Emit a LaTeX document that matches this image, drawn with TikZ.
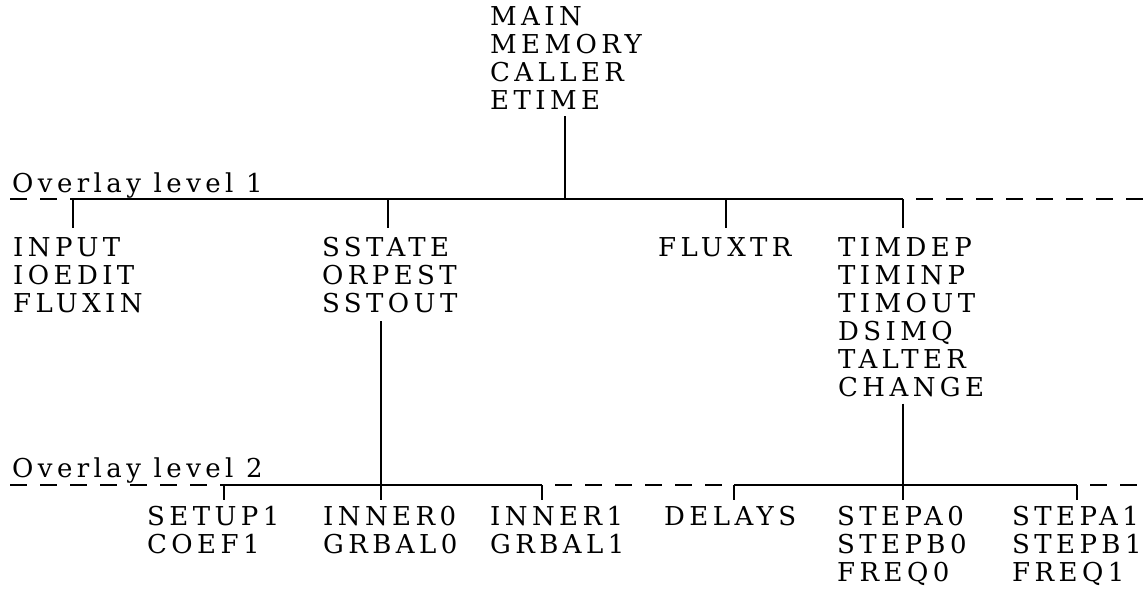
\documentclass[tikz,border=0pt]{standalone}
\usepackage{fontspec}
\setmainfont{DejaVu Serif}[LetterSpace=17]
\usetikzlibrary{calc}
\begin{document}
\begin{tikzpicture}[x=1pt,y=-1pt,
  lbl/.style={anchor=north west,inner sep=0pt,align=left,
              font=\fontsize{26}{28}\selectfont},
  tag/.style={anchor=base west,inner sep=0pt,font=\fontsize{26}{28}\selectfont},
  wire/.style={line width=1.5pt},
  dwire/.style={line width=1.6pt,dash pattern=on 17pt off 13pt},
  dwirec/.style={dwire,dash phase=17pt}]
\fill[white] (0,0) rectangle (1146,595);
\useasboundingbox (0,0) rectangle (1146,595);

% resident root segment
\node[lbl] (root) at (490,6) {MAIN\\MEMORY\\CALLER\\ETIME};

% overlay level 1
\node[tag] (ovl1) at (12,192) {Overlay level 1};
\node[lbl] (grpin) at (13,237)  {INPUT\\IOEDIT\\FLUXIN};
\node[lbl] (grpss) at (322,237) {SSTATE\\ORPEST\\SSTOUT};
\node[lbl] (grpfx) at (658,237) {FLUXTR};
\node[lbl] (grptd) at (838,237) {TIMDEP\\TIMINP\\TIMOUT\\DSIMQ\\TALTER\\CHANGE};

% overlay level 2
\node[tag] (ovl2) at (12,477) {Overlay level 2};
\node[lbl] (setup)  at (147,506)  {SETUP1\\COEF1};
\node[lbl] (inner0) at (323,506)  {INNER0\\GRBAL0};
\node[lbl] (inner1) at (490,506)  {INNER1\\GRBAL1};
\node[lbl] (delays) at (664,506)  {DELAYS};
\node[lbl] (stepa0) at (837,506)  {STEPA0\\STEPB0\\FREQ0};
\node[lbl] (stepa1) at (1012,506) {STEPA1\\STEPB1\\FREQ1};

% bus junctions, level 1
\coordinate (b1l)    at (10,199);
\coordinate (b1in)   at (73,199);
\coordinate (b1ss)   at (388,199);
\coordinate (b1main) at (565,199);
\coordinate (b1fx)   at (726,199);
\coordinate (b1td)   at (903,199);
\coordinate (b1r)    at (1146,199);

% bus junctions, level 2
\coordinate (b2l)  at (10,485);
\coordinate (b2su) at (224,485);
\coordinate (b2ss) at (381,485);
\coordinate (b2i1) at (542,485);
\coordinate (b2dl) at (734,485);
\coordinate (b2td) at (903,485);
\coordinate (b2s1) at (1077,485);
\coordinate (b2r)  at (1146,485);

% level 1 bus
\draw[dwire]  (b1l) -- (b1in);
\draw[wire]   (b1in) -- (b1td);
\draw[dwirec] (b1td) -- (b1r);

% level 2 bus
\draw[dwire]  (b2l) -- (b2su);
\draw[wire]   (b2su) -- (b2i1);
\draw[dwirec] (b2i1) -- (b2dl);
\draw[wire]   (b2dl) -- (b2s1);
\draw[dwirec] (b2s1) -- (b2r);

% root to level 1
\draw[wire] ($(root.south -| b1main)+(0,7)$) -- (b1main);

% level 1 branches
\draw[wire] (b1in) -- ($(grpin.north -| b1in)+(0,-9)$);
\draw[wire] (b1ss) -- ($(grpss.north -| b1ss)+(0,-9)$);
\draw[wire] (b1fx) -- ($(grpfx.north -| b1fx)+(0,-9)$);
\draw[wire] (b1td) -- ($(grptd.north -| b1td)+(0,-9)$);

% level 1 segments down to level 2
\draw[wire] ($(grpss.south -| b2ss)+(0,8)$) -- (b2ss) -- ($(inner0.north -| b2ss)+(0,-6)$);
\draw[wire] ($(grptd.south -| b2td)+(0,7)$) -- (b2td) -- ($(stepa0.north -| b2td)+(0,-6)$);

% level 2 branches
\draw[wire] (b2su) -- ($(setup.north -| b2su)+(0,-6)$);
\draw[wire] (b2i1) -- ($(inner1.north -| b2i1)+(0,-6)$);
\draw[wire] (b2dl) -- ($(delays.north -| b2dl)+(0,-6)$);
\draw[wire] (b2s1) -- ($(stepa1.north -| b2s1)+(0,-6)$);
\end{tikzpicture}
\end{document}
